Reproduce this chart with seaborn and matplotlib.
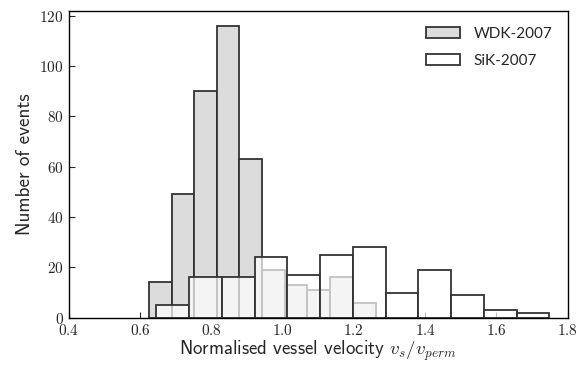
import numpy as np
import matplotlib
matplotlib.use("Agg")
import matplotlib.pyplot as plt
import seaborn as sns

# Data (bin edges and counts)
wdk_edges = [0.625, 0.689, 0.752, 0.816, 0.879, 0.943, 1.007, 1.070, 1.134, 1.197, 1.261]
wdk_counts = [14, 49, 90, 116, 63, 19, 13, 11, 16, 6]
sik_edges = [0.646, 0.738, 0.830, 0.922, 1.013, 1.105, 1.197, 1.289, 1.381, 1.473, 1.565, 1.657, 1.749]
sik_counts = [5, 16, 16, 24, 17, 25, 28, 10, 19, 9, 3, 2]
labels = ["WDK-2007", "SiK-2007"]
xticks = [0.4, 0.6, 0.8, 1.0, 1.2, 1.4, 1.6, 1.8]
yticks = [0, 20, 40, 60, 80, 100, 120]

sns.set_style("ticks")
plt.rcParams["font.family"] = "serif"
plt.rcParams["font.serif"] = ["cmr10", "DejaVu Serif"]
plt.rcParams["mathtext.fontset"] = "cm"
plt.rcParams["axes.formatter.use_mathtext"] = True

fig = plt.figure(figsize=(5.84, 3.65), dpi=100)
ax = fig.add_axes([0.1176, 0.1296, 0.972 - 0.1176, 0.969 - 0.1296])

def centers(edges):
    e = np.asarray(edges)
    return (e[:-1] + e[1:]) / 2

edge_col = "#333333"
wdk_face = (0.863, 0.863, 0.863, 1.0)
sik_face = (1, 1, 1, 0.7)
sns.histplot(x=centers(wdk_edges), weights=wdk_counts, bins=wdk_edges, ax=ax,
             facecolor=wdk_face, edgecolor=edge_col, linewidth=1.3)
n_wdk = len(ax.patches)
sns.histplot(x=centers(sik_edges), weights=sik_counts, bins=sik_edges, ax=ax,
             facecolor=sik_face, edgecolor=edge_col, linewidth=1.3)

for i, p in enumerate(ax.patches):
    p.set_facecolor(wdk_face if i < n_wdk else sik_face)
    p.set_edgecolor(edge_col)
    p.set_linewidth(1.3)

ax.set_xlim(0.4, 1.8)
ax.set_ylim(0, 121.8)
ax.set_xticks(xticks)
ax.set_yticks(yticks)
ax.tick_params(direction="in", length=4, width=0.8, labelsize=11, top=False, right=False)
for s in ax.spines.values():
    s.set_visible(True)
    s.set_linewidth(1.0)
    s.set_color("black")

ax.set_xlabel(r"Normalised vessel velocity $v_s/v_{perm}$", fontfamily="cmss10",
              fontsize=13.6, labelpad=0.5)
ax.set_ylabel("Number of events", fontfamily="cmss10", fontsize=13.8)

handles = [ax.patches[0], ax.patches[n_wdk]]
leg = ax.legend(handles, labels, loc="upper right", frameon=False,
                prop={"family": "Lato", "size": 11}, handlelength=2.2,
                handleheight=0.8, labelspacing=0.85, handletextpad=0.9,
                borderaxespad=0.6)

fig.savefig("out.png", dpi=100)
